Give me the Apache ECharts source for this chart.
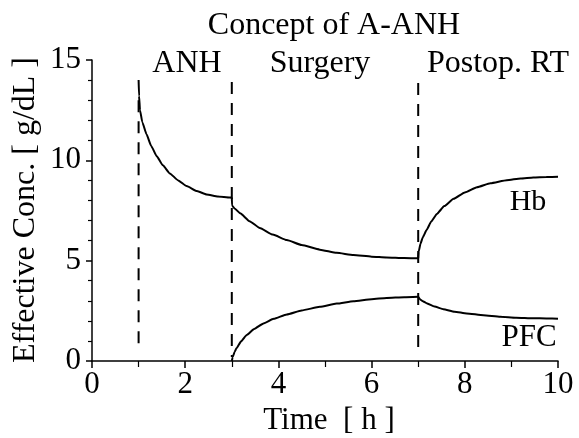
<!DOCTYPE html>
<html>
<head>
<meta charset="utf-8">
<script src="https://cdn.jsdelivr.net/npm/echarts@6/dist/echarts.min.js"></script>
<style>html,body{margin:0;padding:0;background:#fff;}#c{width:579px;height:438px;}</style>
</head>
<body>
<div id="c"></div>
<script>
// Hb: effective concentration (g/dL) during ANH, surgery and postoperative RT
var hbAnh = [[1.0,14.0],[1.01,13.2],[1.03,12.5],[1.08,11.9],[1.17,11.3],[1.27,10.72],[1.39,10.2],[1.52,9.75],[1.67,9.35],[1.85,9.0],[2.03,8.72],[2.25,8.47],[2.46,8.3],[2.7,8.2],[2.96,8.15],[3.0,8.15]];
var hbSurgery = [[3.0,8.15],[3.005,7.75],[3.06,7.6],[3.18,7.36],[3.38,6.97],[3.6,6.63],[3.88,6.3],[4.18,6.03],[4.5,5.78],[4.89,5.55],[5.25,5.39],[5.61,5.28],[6.0,5.2],[6.32,5.16],[6.7,5.13],[7.0,5.12]];
var hbPostop = [[7.0,5.12],[7.01,5.45],[7.05,5.85],[7.1,6.17],[7.18,6.53],[7.28,6.95],[7.4,7.33],[7.56,7.72],[7.76,8.08],[8.0,8.4],[8.26,8.66],[8.55,8.86],[8.9,9.01],[9.2,9.1],[9.47,9.15],[9.75,9.17],[10.0,9.18]];
// PFC: effective concentration (g/dL)
var pfcSurgery = [[3.0,0.0],[3.02,0.2],[3.06,0.45],[3.1,0.63],[3.2,0.98],[3.32,1.3],[3.48,1.6],[3.68,1.87],[3.9,2.1],[4.18,2.32],[4.5,2.52],[4.89,2.7],[5.25,2.86],[5.61,2.98],[6.0,3.08],[6.32,3.14],[6.7,3.18],[7.0,3.2]];
var pfcPostop = [[7.0,3.2],[7.05,3.05],[7.1,2.98],[7.18,2.88],[7.35,2.71],[7.54,2.58],[7.78,2.46],[8.04,2.37],[8.4,2.28],[8.76,2.21],[9.1,2.16],[9.47,2.13],[9.75,2.12],[10.0,2.11]];
// Phase boundaries (h) and dashed-line extents
var phaseTimes = [1, 3, 7];
var phaseLineLow = [0.65, 0.2, 0.66];
var phaseLineHigh = [13.0, 13.9, 13.85];
var phaseNames = ['ANH', 'Surgery', 'Postop. RT'];
var xTicks = [0, 2, 4, 6, 8, 10];
var yTicks = [0, 5, 10, 15];

var FONT = '"Liberation Serif", "Times New Roman", serif';
var chart = echarts.init(document.getElementById('c'), null, {renderer: 'canvas'});

var series = [];
function curve(data) {
  return {type: 'line', data: data, showSymbol: false, symbol: 'none', smooth: 0.15, smoothMonotone: 'x',
    lineStyle: {color: '#000', width: 2}, silent: true, z: 3};
}
[hbAnh, hbSurgery, hbPostop, pfcSurgery, pfcPostop].forEach(function (d) { series.push(curve(d)); });
phaseTimes.forEach(function (t, i) {
  series.push({type: 'line', data: [[t, phaseLineHigh[i]], [t, phaseLineLow[i]]], showSymbol: false, symbol: 'none',
    lineStyle: {color: '#000', width: 2, type: [12, 9]}, silent: true, z: 2});
});

chart.setOption({
  backgroundColor: '#fff',
  animation: false,
  grid: {left: 92, right: 21, top: 60, bottom: 77},
  xAxis: {
    type: 'value', min: 0, max: 10, interval: 2,
    axisLine: {lineStyle: {color: '#000', width: 1.5}},
    axisTick: {show: true, length: 7, lineStyle: {color: '#000', width: 1.5}},
    minorTick: {show: true, splitNumber: 2, length: 6, lineStyle: {color: '#000', width: 1.2}},
    splitLine: {show: false},
    axisLabel: {color: '#000', fontFamily: FONT, fontSize: 31, margin: 8,
      formatter: function (v) { return xTicks.indexOf(v) >= 0 ? String(v) : ''; }}
  },
  yAxis: {
    type: 'value', min: 0, max: 15, interval: 5,
    axisLine: {show: true, lineStyle: {color: '#000', width: 1.5}},
    axisTick: {show: true, length: 6, lineStyle: {color: '#000', width: 1.5}},
    minorTick: {show: true, splitNumber: 5, length: 4, lineStyle: {color: '#000', width: 1.2}},
    splitLine: {show: false},
    axisLabel: {color: '#000', fontFamily: FONT, fontSize: 31, margin: 11,
      formatter: function (v) { return yTicks.indexOf(v) >= 0 ? String(v) : ''; }}
  },
  series: series,
  graphic: [
    {type: 'text', x: 334, y: 26, style: {text: 'Concept of A-ANH', font: '32px ' + FONT, fill: '#000', textAlign: 'center', textVerticalAlign: 'middle'}},
    {type: 'text', x: 187, y: 64, style: {text: phaseNames[0], font: '32px ' + FONT, fill: '#000', textAlign: 'center', textVerticalAlign: 'middle'}},
    {type: 'text', x: 320, y: 64, style: {text: phaseNames[1], font: '32px ' + FONT, fill: '#000', textAlign: 'center', textVerticalAlign: 'middle'}},
    {type: 'text', x: 498, y: 64, style: {text: phaseNames[2], font: '32px ' + FONT, fill: '#000', textAlign: 'center', textVerticalAlign: 'middle'}},
    {type: 'text', x: 528, y: 202, style: {text: 'Hb', font: '30px ' + FONT, fill: '#000', textAlign: 'center', textVerticalAlign: 'middle'}},
    {type: 'text', x: 529, y: 338, style: {text: 'PFC', font: '31px ' + FONT, fill: '#000', textAlign: 'center', textVerticalAlign: 'middle'}},
    {type: 'text', x: 329, y: 421, style: {text: 'Time  [ h ]', font: '31px ' + FONT, fill: '#000', textAlign: 'center', textVerticalAlign: 'middle'}},
    {type: 'text', x: 26, y: 210, rotation: Math.PI / 2, style: {text: 'Effective Conc. [ g/dL ]', font: '32px ' + FONT, fill: '#000', textAlign: 'center', textVerticalAlign: 'middle'}}
  ]
});
</script>
</body>
</html>
